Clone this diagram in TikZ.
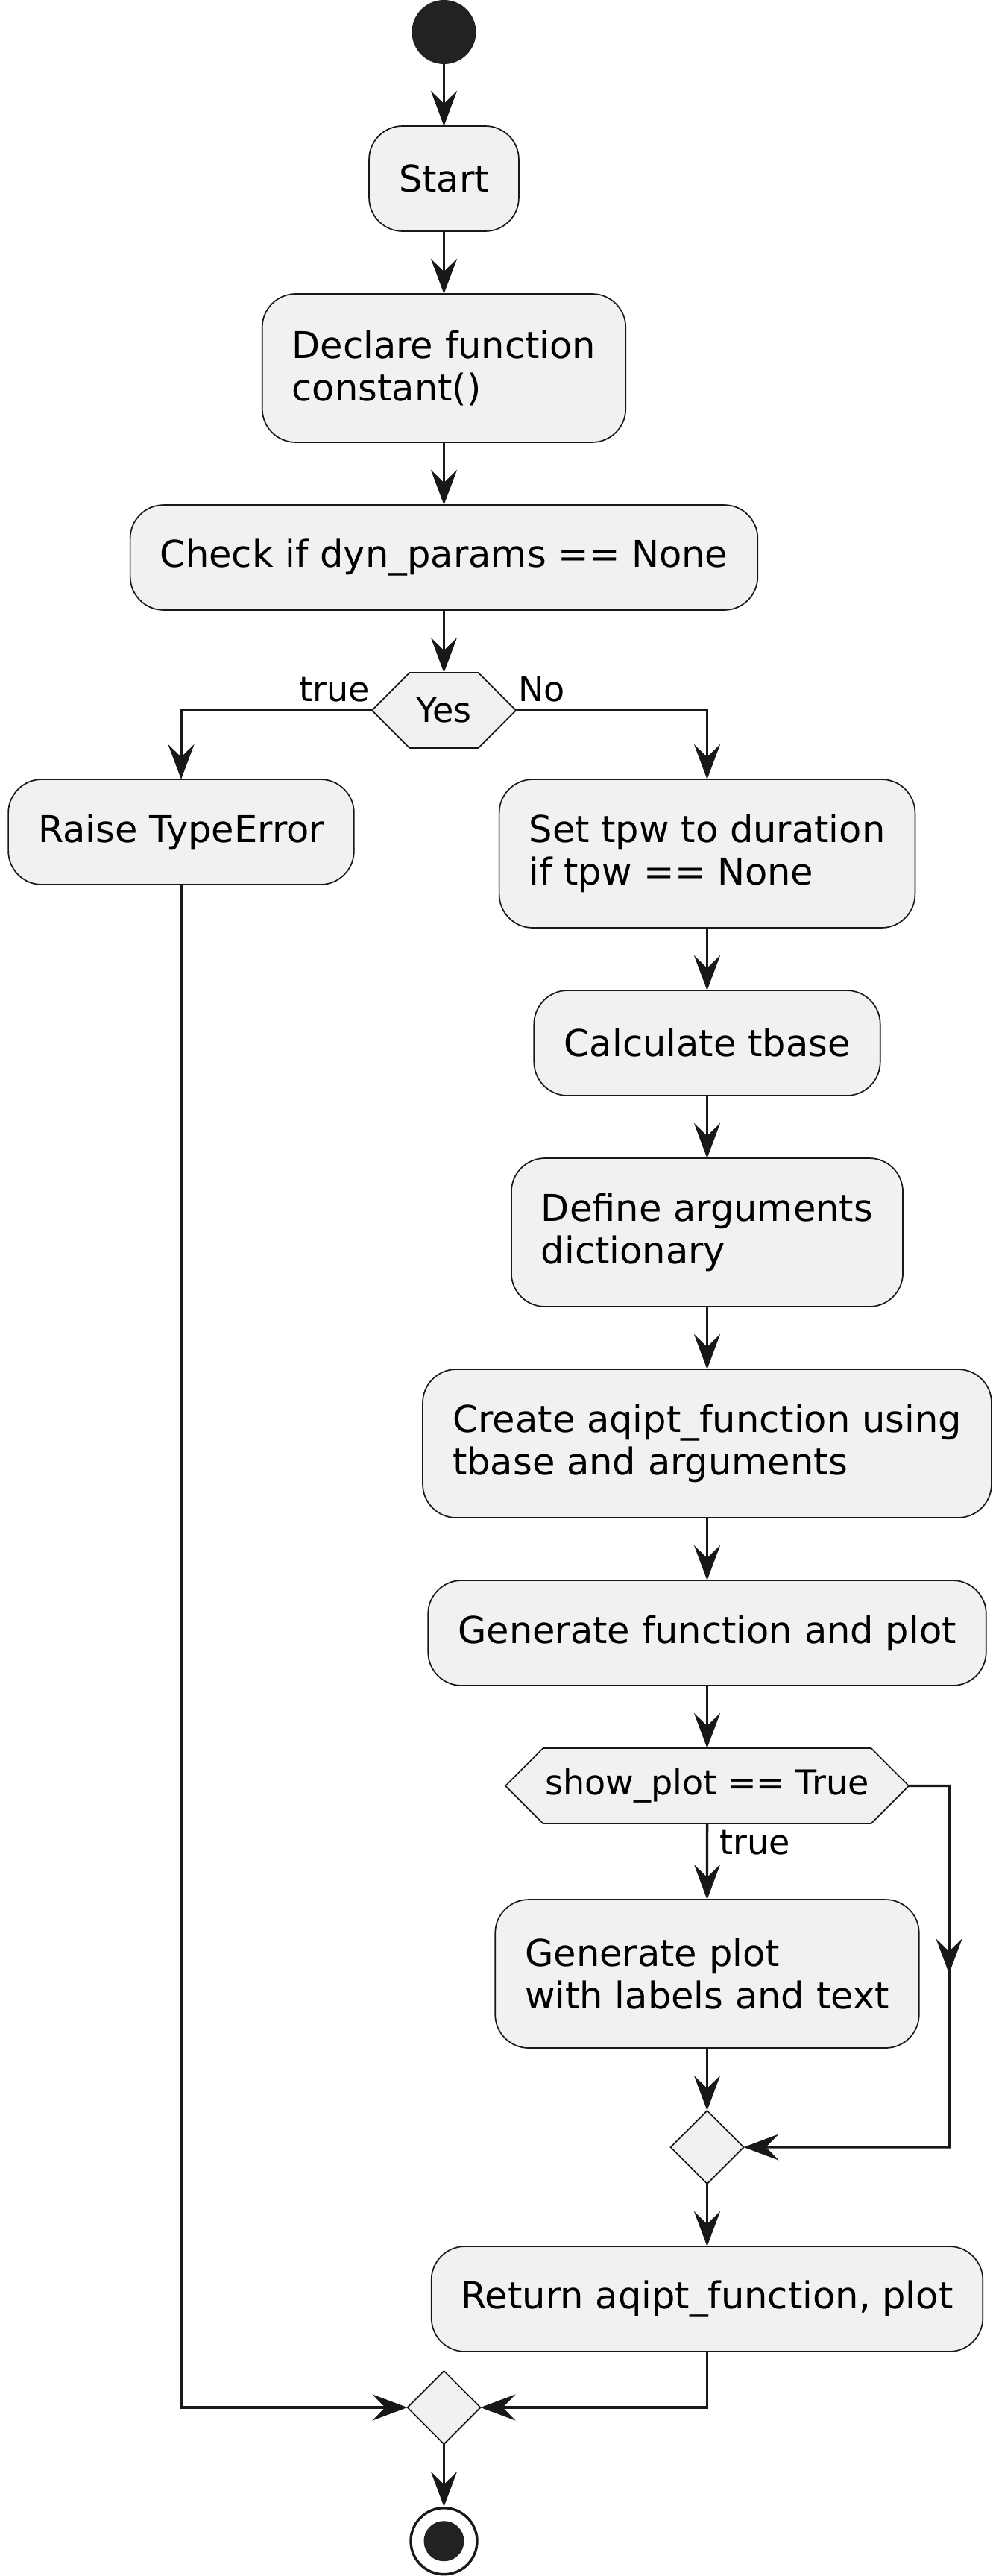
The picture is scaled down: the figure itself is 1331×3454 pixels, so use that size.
\documentclass[tikz,border=0pt]{standalone}
\usepackage{fontspec}
\setmainfont{DejaVu Sans}
\usetikzlibrary{positioning,arrows.meta,calc,shapes.geometric,shapes.symbols}
\definecolor{actfill}{HTML}{F1F1F1}
\definecolor{actline}{HTML}{181818}
\definecolor{startdot}{HTML}{222222}

\begin{document}
\begin{tikzpicture}[
  font=\fontsize{49.5pt}{57.6pt}\selectfont,
  box/.style={draw=actline, line width=1.7pt, outer sep=0pt, fill=actfill, rounded corners=45pt, minimum height=141pt, inner xsep=40pt, align=left},
  tallbox/.style={box, minimum height=199pt},
  hex/.style={draw=actline, line width=1.7pt, outer sep=0pt, fill=actfill, signal, signal to=west and east, minimum height=101pt, inner xsep=3pt, inner ysep=0pt, font=\fontsize{46pt}{53pt}\selectfont},
  merge/.style={draw=actline, line width=1.7pt, outer sep=0pt, fill=actfill, diamond, minimum width=98pt, minimum height=98pt, inner sep=0pt},
  initial/.style={circle, fill=startdot, minimum size=86pt, inner sep=0pt, outer sep=0pt},
  final/.style={circle, draw=actline, line width=3.4pt, fill=white, minimum size=89pt, inner sep=0pt},
  lbl/.style={font=\fontsize{46pt}{53pt}\selectfont, inner sep=0pt},
  arr/.style={-{Stealth[length=47pt, width=35pt, inset=17pt]}, line width=3.4pt, draw=actline},
  node distance=84pt]
  \useasboundingbox (0,0) rectangle (1331pt,-3454pt);
  \node[initial] (init) at (595.5pt,-43pt) {};
  \node[box, below=83pt of init] (start) {Start};
  \node[tallbox, below=of start] (declare) {Declare function\\constant()};
  \node[box, below=of declare] (check) {Check if dyn\_params == None};
  \node[hex, inner xsep=9pt, below=of check] (yes) {Yes};
  \node[box, below=42pt of yes, xshift=-352.5pt] (raise) {Raise TypeError};
  \node[tallbox, below=42pt of yes, xshift=353pt] (settpw) {Set tpw to duration\\if tpw == None};
  \node[box, below=of settpw] (tbase) {Calculate tbase};
  \node[tallbox, below=of tbase] (args) {Define arguments\\dictionary};
  \node[tallbox, below=of args] (create) {Create aqipt\_function using\\tbase and arguments};
  \node[box, below=of create] (gen) {Generate function and plot};
  \node[hex, below=of gen] (show) {show\_plot == True};
  \node[tallbox, below=102pt of show] (plot) {Generate plot\\with labels and text};
  \node[merge, below=of plot] (join) {};
  \node[box, below=of join] (ret) {Return aqipt\_function, plot};
  \node[merge, below=26pt of ret, xshift=-353pt] (endjoin) {};
  \node[final, below=84pt of endjoin] (stop) {};
  \fill[startdot] (stop) circle (27pt);
  \draw[arr] (init) -- (start);
  \draw[arr] (start) -- (declare);
  \draw[arr] (declare) -- (check);
  \draw[arr] (check) -- (yes);
  \draw[arr] (yes.west) -| (raise.north);
  \draw[arr] (yes.east) -| (settpw.north);
  \node[lbl, anchor=south east] (ltrue) at ([xshift=-3pt, yshift=11pt]yes.west) {true};
  \node[lbl, anchor=south west] (lno) at ([xshift=3pt, yshift=11pt]yes.east) {No};
  \draw[arr] (settpw) -- (tbase);
  \draw[arr] (tbase) -- (args);
  \draw[arr] (args) -- (create);
  \draw[arr] (create) -- (gen);
  \draw[arr] (gen) -- (show);
  \draw[arr] (show) -- (plot);
  \node[lbl, anchor=north west] (ltrue2) at ([xshift=17pt, yshift=-9pt]show.south) {true};
  \draw[arr] (plot) -- (join);
  \coordinate (lt) at ([xshift=54pt]show.east);
  \coordinate (lb) at (lt |- join);
  \draw[arr] (show.east) -- (lt) -- ($(lt)!0.52!(lb)$);
  \draw[arr] ($(lt)!0.5!(lb)$) -- (lb) -- (join.east);
  \draw[arr] (join) -- (ret);
  \draw[arr] (raise.south) |- (endjoin.west);
  \draw[arr] (ret.south) |- (endjoin.east);
  \draw[arr] (endjoin) -- (stop);
\end{tikzpicture}
\end{document}
